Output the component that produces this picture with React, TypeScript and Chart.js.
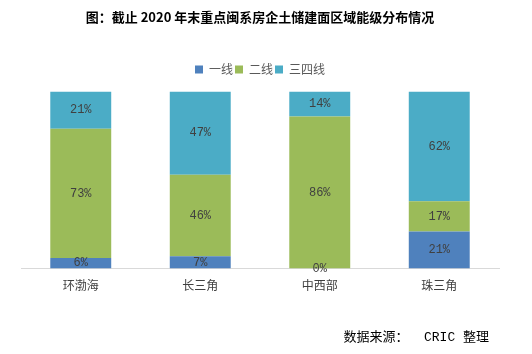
import React, { useEffect, useRef } from "react";
import { Chart, registerables } from "chart.js";

Chart.register(...registerables);

const categories = ["环渤海", "长三角", "中西部", "珠三角"];
const tier1 = [6, 7, 0, 21];
const tier2 = [73, 46, 86, 17];
const tier34 = [21, 47, 14, 62];
const seriesNames = ["一线", "二线", "三四线"];
const titleText = "图：截止 2020 年末重点闽系房企土储建面区域能级分布情况";
const sourceText = "数据来源：  CRIC 整理";

const labelFont = "'Liberation Mono', 'Noto Sans CJK SC', monospace";

const legendGap = {
  id: "legendGap",
  beforeInit(chart: any) {
    const legend = chart.legend;
    if (!legend) return;
    const orig = legend.fit;
    legend.fit = function () {
      orig.call(this);
      this.height += 6;
    };
  },
};

const segmentLabels = {
  id: "segmentLabels",
  afterDatasetsDraw(chart: any) {
    const ctx = chart.ctx;
    ctx.save();
    ctx.font = "12px " + labelFont;
    ctx.fillStyle = "#404040";
    ctx.textAlign = "center";
    ctx.textBaseline = "middle";
    chart.data.datasets.forEach((ds: any, di: number) => {
      const meta = chart.getDatasetMeta(di);
      meta.data.forEach((bar: any, i: number) => {
        const p = bar.getProps(["x", "y", "base"], true);
        const cy = (p.y + p.base) / 2;
        ctx.fillText(ds.data[i] + "%", p.x, cy);
      });
    });
    ctx.restore();
  },
};

const sourcePlugin = {
  id: "sourceText",
  afterDraw(chart: any) {
    const ctx = chart.ctx;
    ctx.save();
    ctx.font = "13px " + labelFont;
    ctx.fillStyle = "#000000";
    ctx.textAlign = "right";
    ctx.textBaseline = "middle";
    ctx.fillText(sourceText, 489, 338);
    ctx.restore();
  },
};

export default function App() {
  const ref = useRef<HTMLCanvasElement>(null);
  useEffect(() => {
    const chart = new Chart(ref.current as HTMLCanvasElement, {
      type: "bar",
      data: {
        labels: categories,
        datasets: [
          { label: seriesNames[0], data: tier1, backgroundColor: "#4F81BD" },
          { label: seriesNames[1], data: tier2, backgroundColor: "#9BBB59" },
          { label: seriesNames[2], data: tier34, backgroundColor: "#4BACC6" },
        ],
      },
      options: {
        responsive: false,
        animation: false,
        layout: { padding: { left: 21, right: 33, top: 9, bottom: 57 } },
        datasets: { bar: { categoryPercentage: 1, barPercentage: 0.51 } } as any,
        scales: {
          x: {
            stacked: true,
            grid: { display: false },
            border: { display: true, color: "#D9D9D9" },
            ticks: { color: "#404040", font: { family: labelFont, size: 12 }, padding: 3 },
          },
          y: {
            stacked: true,
            display: false,
            min: 0,
            max: 100,
          },
        },
        plugins: {
          tooltip: { enabled: false },
          title: {
            display: true,
            text: titleText,
            color: "#000000",
            font: { family: "'Noto Sans CJK SC', sans-serif", size: 13, weight: "bold" },
            padding: { top: 0, bottom: 37 },
          },
          legend: {
            display: true,
            position: "top",
            labels: {
              boxWidth: 8,
              boxHeight: 8,
              color: "#595959",
              font: { family: "'Noto Sans CJK SC', sans-serif", size: 12 },
              padding: 2,
            },
          },
        },
      },
      plugins: [legendGap, segmentLabels, sourcePlugin],
    });
    return () => chart.destroy();
  }, []);
  return (
    <div style={{ position: "fixed", left: 0, top: 0, width: 532, height: 354, background: "#fff" }}>
      <canvas ref={ref} width={532} height={354} style={{ width: 532, height: 354 }} />
    </div>
  );
}
